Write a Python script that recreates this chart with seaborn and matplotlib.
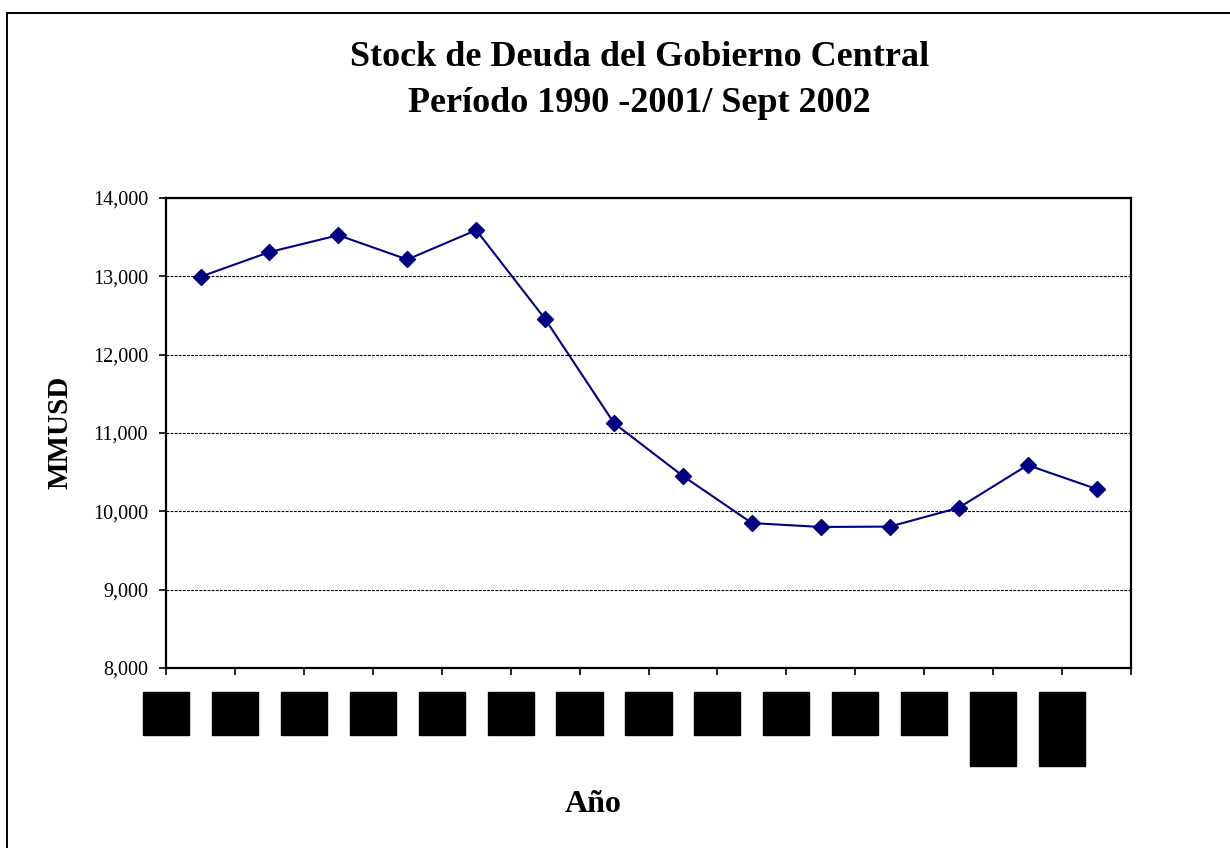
import numpy as np
import pandas as pd
import matplotlib
matplotlib.use('Agg')
import matplotlib.pyplot as plt
from matplotlib.path import Path
from matplotlib.lines import Line2D
import seaborn as sns

###############################################################################
# Data
###############################################################################
periodos = ['1990', '1991', '1992', '1993', '1994', '1995', '1996',
            '1997', '1998', '1999', '2000', '2001', 'Jun\n2002', 'Sept\n2002']
deuda = [12995, 13310, 13525, 13215, 13590, 12455, 11125,
         10450, 9850, 9800, 9805, 10045, 10590, 10285]
yticks = [8000, 9000, 10000, 11000, 12000, 13000, 14000]
titulo = ['Stock de Deuda del Gobierno Central', 'Período 1990 -2001/ Sept 2002']
(xlab, ylab) = ('Año', 'MMUSD')

df = pd.DataFrame({xlab: periodos, ylab: deuda})

###############################################################################
# Style
###############################################################################
sns.set_theme(style='white')
plt.rcParams['font.family'] = ['Liberation Serif', 'DejaVu Serif']
for k in ('text.color', 'axes.labelcolor', 'xtick.color', 'ytick.color'):
    plt.rcParams[k] = 'black'
NAVY = '#000080'

def tickBox(x0, y0, width, height, mutation_size):
    # blacked-out label boxes (taller padding than wide)
    (px, py) = (0.28*mutation_size, 0.73*mutation_size)
    return Path([
        (x0-px, y0-py), (x0+width+px, y0-py),
        (x0+width+px, y0+height+py), (x0-px, y0+height+py), (x0-px, y0-py)
    ], closed=True)

###############################################################################
# Plot
###############################################################################
fig = plt.figure(figsize=(12.3, 8.48), dpi=100)
ax = fig.add_axes([0.135, 0.2123, 0.7845, 0.5542])
sns.lineplot(
    data=df, x=xlab, y=ylab, sort=False, ax=ax,
    color=NAVY, linewidth=1.5, marker='D', markersize=8.5,
    markeredgecolor=NAVY, markeredgewidth=1
)
nCat = len(periodos)
ax.set_xlim(-0.5, nCat-0.5)
ax.set_ylim(yticks[0], yticks[-1])
ax.set_yticks(yticks)
ax.set_yticklabels(['{:,}'.format(v) for v in yticks], fontsize=14.5)
# labels sit on the category boundaries, as in the original sheet
ax.set_xticks(np.arange(nCat+1)-0.5)
ax.set_xticklabels(periodos+[''], fontsize=13, color='black', linespacing=2.1)
for lbl in ax.get_xticklabels():
    lbl.set_bbox(dict(boxstyle=tickBox, facecolor='black', edgecolor='black'))
ax.tick_params(axis='both', direction='out', length=5, width=1.2,
               color='black', bottom=True, left=True)
ax.tick_params(axis='x', pad=21.5)
ax.tick_params(axis='y', pad=8)
ax.yaxis.grid(True, linestyle=(0, (2.5, 1.2)), color='black', linewidth=0.8)
ax.xaxis.grid(False)
for sp in ax.spines.values():
    sp.set_color('black')
    sp.set_linewidth(1.6)
# Axis labels -----------------------------------------------------------------
ax.set_xlabel(xlab, fontsize=23, fontweight='bold')
ax.xaxis.set_label_coords(0.4425, -0.29)
ax.xaxis.label.set_va('center')
ax.set_ylabel(ylab, fontsize=21, fontweight='bold')
ax.yaxis.set_label_coords(-0.11, 0.502)
ax.yaxis.label.set_va('center')
# Title -----------------------------------------------------------------------
fig.text(0.52, 1-58/848, titulo[0], ha='center', va='center',
         fontsize=26, fontweight='bold')
fig.text(0.52, 1-104/848, titulo[1], ha='center', va='center',
         fontsize=26, fontweight='bold')
# Chart frame (left and top edges visible) ------------------------------------
fig.add_artist(Line2D([7/1230, 7/1230], [0, 1-13/848], color='black', lw=1.4))
fig.add_artist(Line2D([7/1230, 1], [1-13/848, 1-13/848], color='black', lw=1.4))

plt.savefig('out.png', dpi=100, facecolor='white')
plt.close('all')
